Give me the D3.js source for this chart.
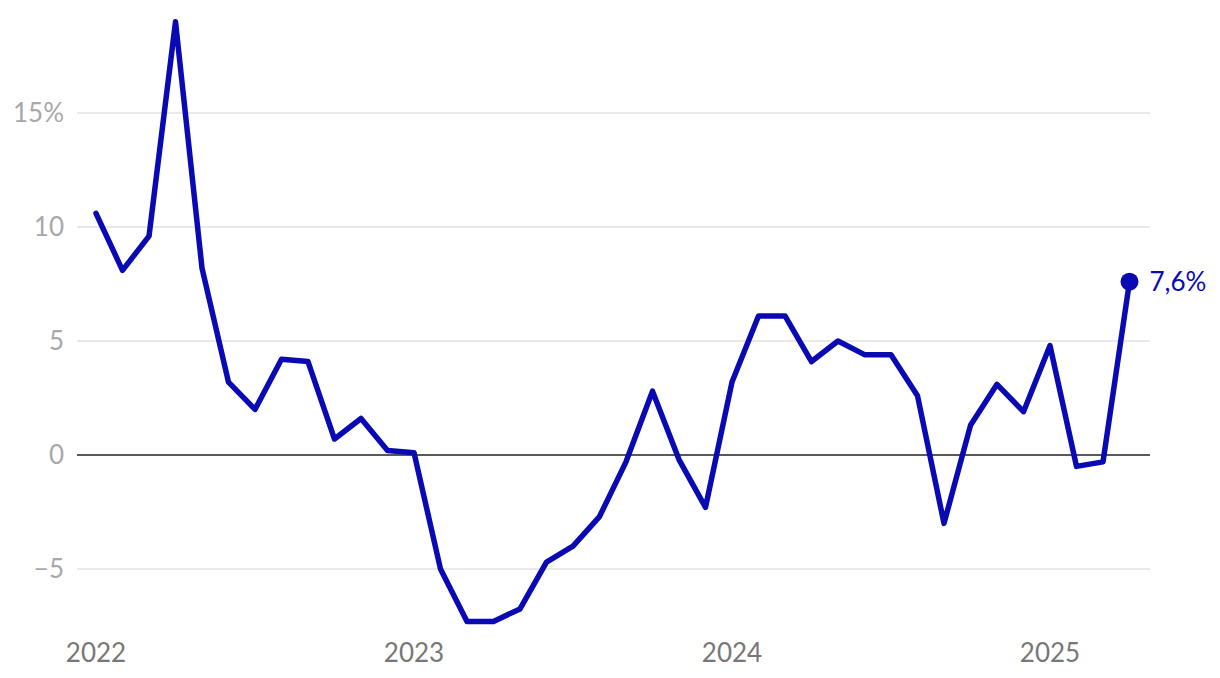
<html lang="en">
<head>
<meta charset="UTF-8">
<script src="https://d3js.org/d3.v7.min.js"></script>
<style>
  body { margin: 0; background: #fff; font-family: Lato, sans-serif; }
</style>
</head>
<body>
<svg width="1220" height="678"></svg>
<script>
// monthly values, Jan 2022 .. Apr 2025
const startYear = 2022;
const values = [
  10.6, 8.1, 9.6, 19.0, 8.2, 3.2, 2.0, 4.2, 4.1, 0.7, 1.6, 0.2,
  0.1, -5.0, -7.3, -7.3, -6.75, -4.7, -4.0, -2.7, -0.3, 2.8, -0.2, -2.3,
  3.2, 6.1, 6.1, 4.1, 5.0, 4.4, 4.4, 2.6, -3.0, 1.3, 3.1, 1.9,
  4.8, -0.5, -0.3, 7.6
];
const yTicks = [-5, 0, 5, 10, 15];
const xTicks = [2022, 2023, 2024, 2025];
const lastLabel = "7,6%";

const data = values.map((v, i) => ({ t: startYear + i / 12, v }));

const svg = d3.select("svg");
const x = d3.scaleLinear().domain([2022, 2025]).range([96, 1050]);
const y = d3.scaleLinear().domain([-5, 15]).range([569, 113]);

// gridlines
svg.append("g").selectAll("line")
  .data(yTicks.filter(d => d !== 0))
  .join("line")
  .attr("x1", 77).attr("x2", 1150)
  .attr("y1", d => y(d)).attr("y2", d => y(d))
  .attr("stroke", "#e2e2e2").attr("stroke-width", 1.5);

svg.append("line")
  .attr("x1", 77).attr("x2", 1150)
  .attr("y1", y(0)).attr("y2", y(0))
  .attr("stroke", "#222").attr("stroke-width", 1.5);

// y labels
svg.append("g").selectAll("text")
  .data(yTicks)
  .join("text")
  .attr("x", 64)
  .attr("y", d => y(d))
  .attr("dy", "0.36em")
  .attr("text-anchor", "end")
  .attr("fill", "#a8a8a8")
  .attr("font-size", 26)
  .text(d => d === 15 ? "15%" : (d < 0 ? "\u2212" + Math.abs(d) : d));

// x labels
svg.append("g").selectAll("text")
  .data(xTicks)
  .join("text")
  .attr("x", d => x(d))
  .attr("y", 662)
  .attr("text-anchor", "middle")
  .attr("fill", "#777")
  .attr("font-size", 26)
  .text(d => d);

// line
const line = d3.line().x(d => x(d.t)).y(d => y(d.v));
svg.append("path")
  .datum(data)
  .attr("d", line)
  .attr("fill", "none")
  .attr("stroke", "#0a0ab4")
  .attr("stroke-width", 5.5)
  .attr("stroke-linejoin", "round")
  .attr("stroke-linecap", "round");

const last = data[data.length - 1];
svg.append("circle")
  .attr("cx", x(last.t)).attr("cy", y(last.v))
  .attr("r", 9)
  .attr("fill", "#0a0ab4");

svg.append("text")
  .attr("x", x(last.t) + 20)
  .attr("y", y(last.v))
  .attr("dy", "0.36em")
  .attr("fill", "#0a0ab4")
  .attr("font-size", 26)
  .text(lastLabel);
</script>
</body>
</html>
